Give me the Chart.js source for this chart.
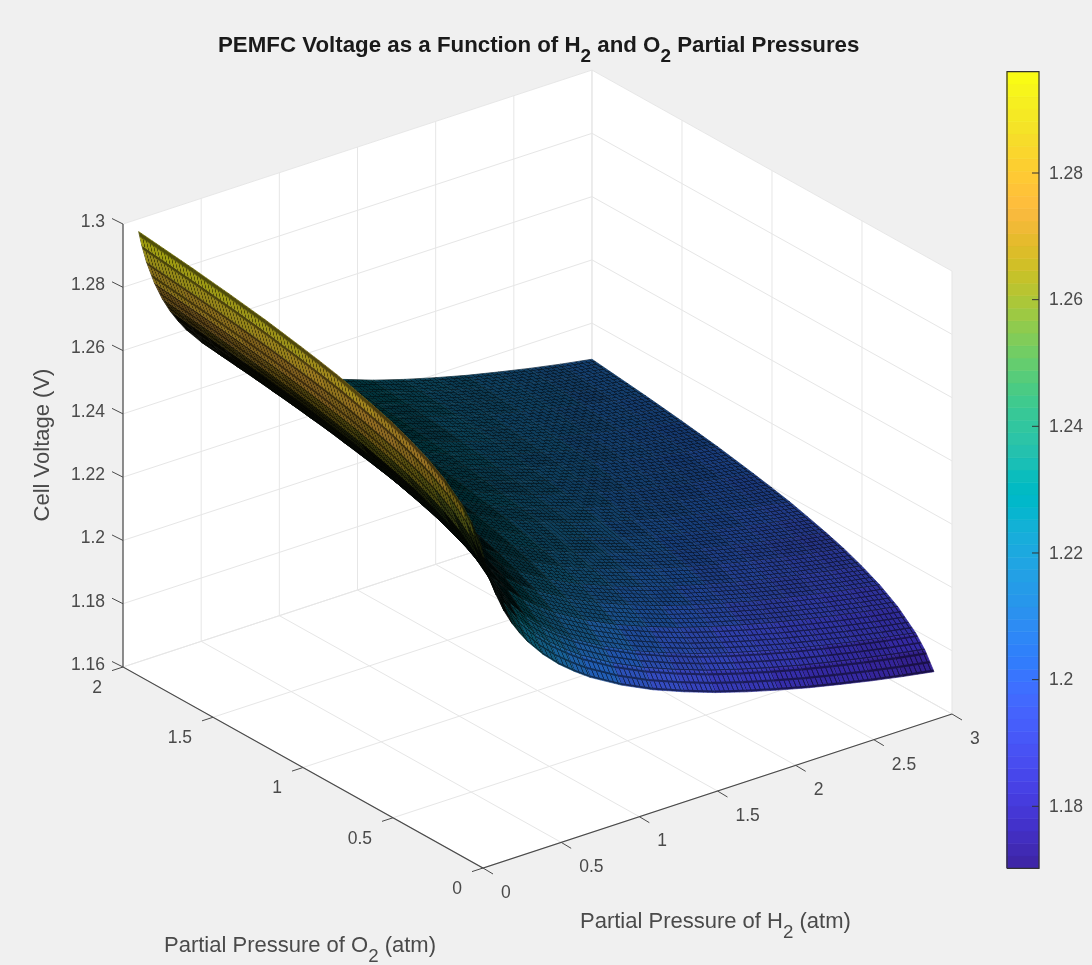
<!DOCTYPE html>
<html>
<head>
<meta charset="utf-8">
<title>PEMFC Voltage</title>
<script src="https://cdn.jsdelivr.net/npm/chart.js@4"></script>
<style>
  html, body { margin: 0; padding: 0; background: #f0f0f0; }
  canvas { display: block; }
</style>
</head>
<body>
<canvas id="surfaceChart" width="1092" height="965"></canvas>
<script>
// Axis values of the surface grid (atm)
const h2Values = [0.1, 0.12, 0.15, 0.2, 0.25, 0.3, 0.35, 0.4, 0.5, 0.6, 0.7, 0.8, 1.0, 1.2, 1.4, 1.6, 1.8, 2.0, 2.2, 2.4, 2.6, 2.8, 3.0];
const o2Values = [0.1, 0.15, 0.2, 0.3, 0.4, 0.5, 0.6, 0.7, 0.8, 0.9, 1.0, 1.1, 1.2, 1.3, 1.4, 1.5, 1.6, 1.7, 1.8, 1.9, 2.0];

// Cell voltage (V): one row per H2 value, one column per O2 value
const cellVoltage = [
  [1.2576,1.2628,1.2665,1.2717,1.2754,1.2782,1.2806,1.2825,1.2842,1.2858,1.2871,1.2883,1.2894,1.2905,1.2914,1.2923,1.2931,1.2939,1.2946,1.2953,1.2960],
  [1.2529,1.2581,1.2618,1.2670,1.2707,1.2735,1.2759,1.2778,1.2795,1.2811,1.2824,1.2836,1.2847,1.2858,1.2867,1.2876,1.2884,1.2892,1.2899,1.2906,1.2913],
  [1.2472,1.2524,1.2561,1.2613,1.2650,1.2678,1.2702,1.2721,1.2738,1.2754,1.2767,1.2779,1.2790,1.2801,1.2810,1.2819,1.2827,1.2835,1.2842,1.2849,1.2856],
  [1.2398,1.2450,1.2487,1.2539,1.2576,1.2604,1.2628,1.2647,1.2664,1.2680,1.2693,1.2705,1.2716,1.2727,1.2736,1.2745,1.2753,1.2761,1.2768,1.2775,1.2782],
  [1.2340,1.2392,1.2429,1.2481,1.2518,1.2546,1.2570,1.2589,1.2606,1.2622,1.2635,1.2647,1.2658,1.2669,1.2678,1.2687,1.2695,1.2703,1.2710,1.2717,1.2724],
  [1.2293,1.2345,1.2382,1.2434,1.2471,1.2499,1.2523,1.2542,1.2559,1.2575,1.2588,1.2600,1.2611,1.2622,1.2631,1.2640,1.2648,1.2656,1.2663,1.2670,1.2677],
  [1.2254,1.2306,1.2343,1.2395,1.2432,1.2460,1.2484,1.2503,1.2520,1.2536,1.2549,1.2561,1.2572,1.2583,1.2592,1.2601,1.2609,1.2617,1.2624,1.2631,1.2638],
  [1.2219,1.2271,1.2308,1.2360,1.2397,1.2425,1.2449,1.2468,1.2485,1.2501,1.2514,1.2526,1.2537,1.2548,1.2557,1.2566,1.2574,1.2582,1.2589,1.2596,1.2603],
  [1.2162,1.2214,1.2251,1.2303,1.2340,1.2368,1.2392,1.2411,1.2428,1.2444,1.2457,1.2469,1.2480,1.2491,1.2500,1.2509,1.2517,1.2525,1.2532,1.2539,1.2546],
  [1.2115,1.2167,1.2204,1.2256,1.2293,1.2321,1.2345,1.2364,1.2381,1.2397,1.2410,1.2422,1.2433,1.2444,1.2453,1.2462,1.2470,1.2478,1.2485,1.2492,1.2499],
  [1.2076,1.2128,1.2165,1.2217,1.2254,1.2282,1.2306,1.2325,1.2342,1.2358,1.2371,1.2383,1.2394,1.2405,1.2414,1.2423,1.2431,1.2439,1.2446,1.2453,1.2460],
  [1.2041,1.2093,1.2130,1.2182,1.2219,1.2247,1.2271,1.2290,1.2307,1.2323,1.2336,1.2348,1.2359,1.2370,1.2379,1.2388,1.2396,1.2404,1.2411,1.2418,1.2425],
  [1.1984,1.2036,1.2073,1.2125,1.2162,1.2190,1.2214,1.2233,1.2250,1.2266,1.2279,1.2291,1.2302,1.2313,1.2322,1.2331,1.2339,1.2347,1.2354,1.2361,1.2368],
  [1.1937,1.1989,1.2026,1.2078,1.2115,1.2143,1.2167,1.2186,1.2203,1.2219,1.2232,1.2244,1.2255,1.2266,1.2275,1.2284,1.2292,1.2300,1.2307,1.2314,1.2321],
  [1.1898,1.1950,1.1987,1.2039,1.2076,1.2104,1.2128,1.2147,1.2164,1.2180,1.2193,1.2205,1.2216,1.2227,1.2236,1.2245,1.2253,1.2261,1.2268,1.2275,1.2282],
  [1.1863,1.1915,1.1952,1.2004,1.2041,1.2069,1.2093,1.2112,1.2129,1.2145,1.2158,1.2170,1.2181,1.2192,1.2201,1.2210,1.2218,1.2226,1.2233,1.2240,1.2247],
  [1.1833,1.1885,1.1922,1.1974,1.2011,1.2039,1.2063,1.2082,1.2099,1.2115,1.2128,1.2140,1.2151,1.2162,1.2171,1.2180,1.2188,1.2196,1.2203,1.2210,1.2217],
  [1.1806,1.1858,1.1895,1.1947,1.1984,1.2012,1.2036,1.2055,1.2072,1.2088,1.2101,1.2113,1.2124,1.2135,1.2144,1.2153,1.2161,1.2169,1.2176,1.2183,1.2190],
  [1.1781,1.1833,1.1870,1.1922,1.1959,1.1987,1.2011,1.2030,1.2047,1.2063,1.2076,1.2088,1.2099,1.2110,1.2119,1.2128,1.2136,1.2144,1.2151,1.2158,1.2165],
  [1.1759,1.1811,1.1848,1.1900,1.1937,1.1965,1.1989,1.2008,1.2025,1.2041,1.2054,1.2066,1.2077,1.2088,1.2097,1.2106,1.2114,1.2122,1.2129,1.2136,1.2143],
  [1.1738,1.1790,1.1827,1.1879,1.1916,1.1944,1.1968,1.1987,1.2004,1.2020,1.2033,1.2045,1.2056,1.2067,1.2076,1.2085,1.2093,1.2101,1.2108,1.2115,1.2122],
  [1.1719,1.1771,1.1808,1.1860,1.1897,1.1925,1.1949,1.1968,1.1985,1.2001,1.2014,1.2026,1.2037,1.2048,1.2057,1.2066,1.2074,1.2082,1.2089,1.2096,1.2103],
  [1.1702,1.1754,1.1791,1.1843,1.1880,1.1908,1.1932,1.1951,1.1968,1.1984,1.1997,1.2009,1.2020,1.2031,1.2040,1.2049,1.2057,1.2065,1.2072,1.2079,1.2086]
];

// Tick labels
const h2Ticks = ['0', '0.5', '1', '1.5', '2', '2.5', '3'];
const o2Ticks = ['0', '0.5', '1', '1.5', '2'];
const voltTicks = ['1.16', '1.18', '1.2', '1.22', '1.24', '1.26', '1.28', '1.3'];
const barTicks = ['1.18', '1.2', '1.22', '1.24', '1.26', '1.28'];

// Colorbar limits
const colorMin = 1.1702;
const colorMax = 1.296;

// parula, 64 steps
const parula = ['#3e26a8','#402ab4','#422ec0','#4332cb','#4537d5','#463cde','#4741e5','#4747eb','#484df0','#4852f4','#4758f8','#465efb','#4563fd','#4269fe','#3e6fff','#3875fe',
  '#327cfc','#2f81fa','#2e87f7','#2d8cf3','#2b91ef','#2797eb','#259be8','#23a0e5','#20a5e3','#1ca9df','#18addb','#12b1d6','#08b5d0','#01b8ca','#02bac3','#0bbdbd',
  '#19bfb6','#24c1ae','#2cc4a7','#31c69f','#37c897','#3fca8e','#4acb84','#57cc7a','#64cd6f','#72cd64','#81cc59','#8fcb4e','#9dc943','#abc739','#b9c431','#c5c22a',
  '#d1bf27','#dcbd29','#e6bb2d','#f0ba36','#f8ba3d','#febe3c','#fec338','#fec934','#fccf30','#fad62d','#f7dc2a','#f5e327','#f5e924','#f6ef20','#f7f51b','#f9fb15'];

const FONT = '"Liberation Sans", Arial, sans-serif';
const TEXT_COLOR = '#4a4a4a';
const AXIS_COLOR = '#4a4a4a';
const GRID_COLOR = '#e6e6e6';

// Fixed 3D view: both scales of the chart run in canvas units
function project(h2, o2, volt) {
    return {
        x: 483 + 156.33 * h2 - 180 * o2,
        y: 868 - 51.33 * h2 - 100.5 * o2 - (volt - 1.16) * 3164
    };
}

function barY(volt) {
    return 173 + (1.28 - volt) * 6333;
}

function colorIndex(volt) {
    const t = (volt - colorMin) / (colorMax - colorMin);
    return Math.max(0, Math.min(63, Math.floor(t * 64)));
}

function lineDataset(points, color, width) {
    return {
        data: points,
        showLine: true,
        fill: false,
        pointRadius: 0,
        borderColor: color,
        borderWidth: width
    };
}

function polygonDataset(points, fillStyle, edgeWidth) {
    return {
        data: points.concat([points[0]]),
        showLine: true,
        fill: 'shape',
        pointRadius: 0,
        backgroundColor: fillStyle,
        borderColor: fillStyle,
        borderWidth: edgeWidth
    };
}

// Fine mesh tile for a surface cell. coverStep is how much of the cell the black mesh lines hide.
const COVER_STEPS = 32;
const tileCache = {};
function getMeshTile(index, coverStep) {
    const key = index + '_' + coverStep;
    if (tileCache[key]) return tileCache[key];
    const cover = coverStep / COVER_STEPS;
    const lineAlpha = 0.5;
    const lineShare = 0.4375 * lineAlpha;
    const tile = document.createElement('canvas');
    tile.width = 8;
    tile.height = 8;
    const c = tile.getContext('2d');
    c.fillStyle = parula[index];
    c.fillRect(0, 0, 8, 8);
    c.fillStyle = 'rgba(0,0,0,' + Math.max(0, (cover - lineShare) / (1 - lineShare)) + ')';
    c.fillRect(0, 0, 8, 8);
    c.fillStyle = 'rgba(0,0,0,' + Math.min(lineAlpha, cover / 0.4375) + ')';
    c.fillRect(0, 0, 8, 2);
    c.fillRect(0, 2, 2, 6);
    tileCache[key] = tile;
    return tile;
}

function getCellFill(i, j) {
    const p00 = project(h2Values[i], o2Values[j], cellVoltage[i][j]);
    const p10 = project(h2Values[i + 1], o2Values[j], cellVoltage[i + 1][j]);
    const p01 = project(h2Values[i], o2Values[j + 1], cellVoltage[i][j + 1]);
    const p11 = project(h2Values[i + 1], o2Values[j + 1], cellVoltage[i + 1][j + 1]);
    // One original mesh step is about 0.03 atm H2 and 0.02 atm O2
    const nu = (h2Values[i + 1] - h2Values[i]) / 0.03 * 2;
    const nv = (o2Values[j + 1] - o2Values[j]) / 0.02 * 2;
    const ux = (p10.x - p00.x + p11.x - p01.x) / nu, uy = (p10.y - p00.y + p11.y - p01.y) / nu;
    let vx = (p01.x - p00.x + p11.x - p10.x) / nv, vy = (p01.y - p00.y + p11.y - p10.y) / nv;
    const det = Math.abs(ux * vy - uy * vx);
    const uLen = Math.hypot(ux, uy), vLen = Math.hypot(vx, vy);

    // Black share from a mesh line of about 1.3 px on the projected spacing
    const lineWidth = 1.3;
    const gapA = Math.max(0, 1 - lineWidth * vLen / Math.max(det, 0.01));
    const gapB = Math.max(0, 1 - lineWidth * uLen / Math.max(det, 0.01));
    const coverStep = Math.min(COVER_STEPS - 1, Math.round((1 - gapA * gapB) * COVER_STEPS));
    if (det < 1.5) { vx = -uy; vy = ux; }

    const mean = (cellVoltage[i][j] + cellVoltage[i + 1][j] + cellVoltage[i][j + 1] + cellVoltage[i + 1][j + 1]) / 4;
    const tile = getMeshTile(colorIndex(mean), coverStep);
    const pattern = tile.getContext('2d').createPattern(tile, 'repeat');
    pattern.setTransform(new DOMMatrix([ux / 8, uy / 8, vx / 8, vy / 8, p00.x, p00.y]));
    return pattern;
}

function buildDatasets() {
    const sets = [];

    // Back walls and floor
    const vMin = 1.16, vMax = 1.3;
    sets.push(polygonDataset([project(0, 2, vMin), project(3, 2, vMin), project(3, 2, vMax), project(0, 2, vMax)], '#ffffff', 0));
    sets.push(polygonDataset([project(3, 2, vMin), project(3, 0, vMin), project(3, 0, vMax), project(3, 2, vMax)], '#ffffff', 0));
    sets.push(polygonDataset([project(0, 0, vMin), project(3, 0, vMin), project(3, 2, vMin), project(0, 2, vMin)], '#ffffff', 0));

    // Grid lines
    h2Ticks.forEach(function(t) {
        const h = parseFloat(t);
        sets.push(lineDataset([project(h, 0, vMin), project(h, 2, vMin), project(h, 2, vMax)], GRID_COLOR, 1));
    });
    o2Ticks.forEach(function(t) {
        const o = parseFloat(t);
        sets.push(lineDataset([project(0, o, vMin), project(3, o, vMin), project(3, o, vMax)], GRID_COLOR, 1));
    });
    voltTicks.forEach(function(t) {
        const v = parseFloat(t);
        sets.push(lineDataset([project(0, 2, v), project(3, 2, v), project(3, 0, v)], GRID_COLOR, 1));
    });

    // Surface cells, far corner first
    for (let i = h2Values.length - 2; i >= 0; i--) {
        for (let j = o2Values.length - 2; j >= 0; j--) {
            sets.push(polygonDataset([
                project(h2Values[i], o2Values[j], cellVoltage[i][j]),
                project(h2Values[i + 1], o2Values[j], cellVoltage[i + 1][j]),
                project(h2Values[i + 1], o2Values[j + 1], cellVoltage[i + 1][j + 1]),
                project(h2Values[i], o2Values[j + 1], cellVoltage[i][j + 1])
            ], getCellFill(i, j), 0.7));
        }
    }

    // Axis lines and tick marks
    sets.push(lineDataset([project(0, 2, vMax), project(0, 2, vMin), project(0, 0, vMin), project(3, 0, vMin)], AXIS_COLOR, 1.2));
    voltTicks.forEach(function(t) {
        const p = project(0, 2, parseFloat(t));
        sets.push(lineDataset([p, { x: p.x - 11, y: p.y - 5.5 }], AXIS_COLOR, 1));
    });
    o2Ticks.forEach(function(t) {
        const p = project(0, parseFloat(t), vMin);
        sets.push(lineDataset([p, { x: p.x - 11, y: p.y + 3.6 }], AXIS_COLOR, 1));
    });
    h2Ticks.forEach(function(t) {
        const p = project(parseFloat(t), 0, vMin);
        sets.push(lineDataset([p, { x: p.x + 10, y: p.y + 6 }], AXIS_COLOR, 1));
    });

    // Colorbar
    for (let k = 0; k < 64; k++) {
        const top = colorMax - (colorMax - colorMin) * (63 - k) / 64;
        const bottom = colorMin + (colorMax - colorMin) * k / 64;
        sets.push(polygonDataset([
            { x: 1007, y: barY(bottom) }, { x: 1039, y: barY(bottom) },
            { x: 1039, y: barY(top) }, { x: 1007, y: barY(top) }
        ], parula[k], 0.6));
    }
    barTicks.forEach(function(t) {
        const y = barY(parseFloat(t));
        sets.push(lineDataset([{ x: 1032, y: y }, { x: 1039, y: y }], '#333333', 1));
    });
    sets.push(lineDataset([
        { x: 1007, y: barY(colorMin) }, { x: 1039, y: barY(colorMin) },
        { x: 1039, y: barY(colorMax) }, { x: 1007, y: barY(colorMax) }, { x: 1007, y: barY(colorMin) }
    ], '#333333', 1.2));

    // Chart.js paints the first dataset last
    return sets.reverse();
}

// Writes text with a subscript part, parts are [text, isSubscript]
function drawRuns(ctx, parts, x, y, size, weight, color) {
    ctx.fillStyle = color;
    ctx.textAlign = 'left';
    ctx.textBaseline = 'alphabetic';
    let cursor = x;
    parts.forEach(function(part) {
        ctx.font = weight + ' ' + (part[1] ? size * 0.85 : size) + 'px ' + FONT;
        ctx.fillText(part[0], cursor, part[1] ? y + size * 0.45 : y);
        cursor += ctx.measureText(part[0]).width;
    });
}

const textPlugin = {
    id: 'surfaceText',
    afterDraw: function(chart) {
        const ctx = chart.ctx;
        ctx.save();
        ctx.fillStyle = TEXT_COLOR;
        ctx.font = '17.5px ' + FONT;
        ctx.textBaseline = 'middle';

        ctx.textAlign = 'right';
        voltTicks.forEach(function(t) {
            const p = project(0, 2, parseFloat(t));
            ctx.fillText(t, 105, p.y - 2);
        });
        o2Ticks.forEach(function(t) {
            const p = project(0, parseFloat(t), 1.16);
            ctx.fillText(t, p.x - 21, p.y + 21);
        });
        ctx.textAlign = 'left';
        h2Ticks.forEach(function(t) {
            const p = project(parseFloat(t), 0, 1.16);
            ctx.fillText(t, p.x + 18, p.y + 25);
        });
        barTicks.forEach(function(t) {
            ctx.fillText(t, 1049, barY(parseFloat(t)) + 1);
        });

        drawRuns(ctx, [['PEMFC Voltage as a Function of H', false], ['2', true], [' and O', false], ['2', true], [' Partial Pressures', false]], 218, 52, 22.3, 'bold', '#1a1a1a');
        drawRuns(ctx, [['Partial Pressure of O', false], ['2', true], [' (atm)', false]], 164, 952, 22, 'normal', TEXT_COLOR);
        drawRuns(ctx, [['Partial Pressure of H', false], ['2', true], [' (atm)', false]], 580, 928, 22, 'normal', TEXT_COLOR);

        ctx.translate(49, 445);
        ctx.rotate(-Math.PI / 2);
        ctx.textAlign = 'center';
        ctx.textBaseline = 'alphabetic';
        ctx.font = '22px ' + FONT;
        ctx.fillStyle = TEXT_COLOR;
        ctx.fillText('Cell Voltage (V)', 0, 0);
        ctx.restore();
    }
};

function initSurfaceChart() {
    const canvas = document.getElementById('surfaceChart');
    return new Chart(canvas.getContext('2d'), {
        type: 'scatter',
        data: { datasets: buildDatasets() },
        options: {
            responsive: false,
            animation: false,
            events: [],
            layout: { padding: 0 },
            plugins: {
                legend: { display: false },
                tooltip: { enabled: false },
                title: { display: false }
            },
            scales: {
                x: { type: 'linear', min: 0, max: 1092, display: false },
                y: { type: 'linear', min: 0, max: 965, reverse: true, display: false }
            }
        },
        plugins: [textPlugin]
    });
}

initSurfaceChart();
</script>
</body>
</html>
